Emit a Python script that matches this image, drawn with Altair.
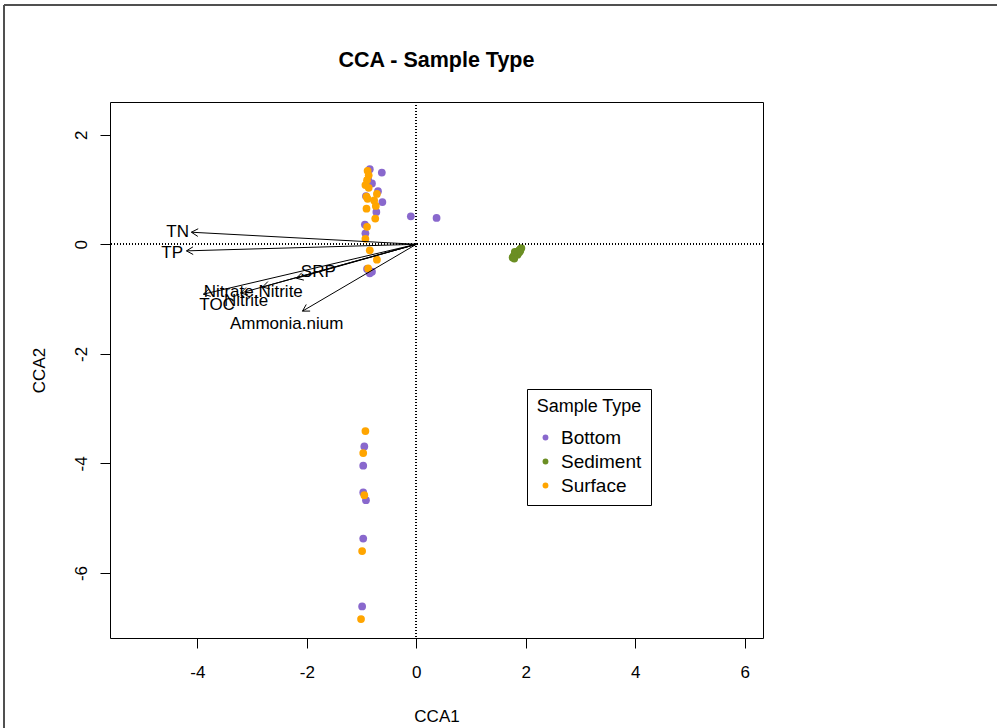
import altair as alt
import pandas as pd
import numpy as np

# ---- sample scores (CCA1, CCA2) ----
bottom_x = [-0.63, -0.85, -0.81, -0.70, -0.62, -0.73, -0.10, 0.37, -0.94, -0.93,
            -0.85, -0.81, -0.90, -0.88, -0.92, -0.95, -0.97, -0.97, -0.92, -0.97, -0.99]
bottom_y = [1.31, 1.37, 1.11, 0.97, 0.77, 0.59, 0.51, 0.48, 0.36, 0.20,
            -0.53, -0.50, -0.45, 1.18, 0.88, -3.69, -4.04, -4.53, -4.67, -5.37, -6.61]
sediment_x = [1.76, 1.78, 1.80, 1.82, 1.84, 1.86, 1.88, 1.90, 1.92, 1.79, 1.85, 1.88, 1.80, 1.90]
sediment_y = [-0.24, -0.21, -0.19, -0.17, -0.15, -0.13, -0.11, -0.09, -0.07, -0.26, -0.19, -0.15, -0.14, -0.12]
surface_x = [-0.89, -0.87, -0.90, -0.93, -0.87, -0.72, -0.91, -0.89, -0.77, -0.74, -0.91,
             -0.75, -0.90, -0.93, -0.85, -0.72, -0.88, -0.93, -0.97, -0.95, -0.99, -1.01]
surface_y = [1.34, 1.26, 1.17, 1.08, 1.03, 0.92, 0.87, 0.83, 0.80, 0.70, 0.65,
             0.47, 0.32, 0.10, -0.11, -0.28, -0.44, -3.41, -3.81, -4.58, -5.60, -6.84]

# ---- biplot arrows (environmental variables) ----
env_names = ["TN", "TP", "SRP", "Nitrate.Nitrite", "Nitrite", "TOC", "Ammonia.nium"]
env_x = [-4.11, -4.20, -2.19, -2.81, -3.21, -3.89, -2.08]
env_y = [0.22, -0.12, -0.62, -0.78, -0.89, -0.91, -1.22]
label_x = [-4.36, -4.46, -1.79, -2.98, -3.11, -3.64, -2.37]
label_y = [0.22, -0.16, -0.505, -0.87, -1.03, -1.11, -1.46]

groups = ["Bottom", "Sediment", "Surface"]
colors = ["#8968CD", "#6B8E23", "#FFA500"]

x_dom = [-5.597, 6.335]
y_dom = [-7.186, 2.597]
x_ticks = [-4, -2, 0, 2, 4, 6]
y_ticks = [-6, -4, -2, 0, 2]
title_text = ["CCA - Sample Type"]

FONT = "Liberation Sans"

pts = pd.concat([
    pd.DataFrame({"CCA1": bottom_x, "CCA2": bottom_y, "Sample Type": "Bottom"}),
    pd.DataFrame({"CCA1": sediment_x, "CCA2": sediment_y, "Sample Type": "Sediment"}),
    pd.DataFrame({"CCA1": surface_x, "CCA2": surface_y, "Sample Type": "Surface"}),
], ignore_index=True)

arrows = pd.DataFrame({"name": env_names, "x0": 0.0, "y0": 0.0, "x": env_x, "y": env_y,
                       "lx": label_x, "ly": label_y})

# arrow heads (open, R-style) derived from arrow tips
head_len = 0.14
rows = []
for xt, yt in zip(env_x, env_y):
    L = np.hypot(xt, yt)
    bx, by = -xt / L, -yt / L
    for a in (np.radians(30), -np.radians(30)):
        dx = bx * np.cos(a) - by * np.sin(a)
        dy = bx * np.sin(a) + by * np.cos(a)
        rows.append({"x": xt, "y": yt, "x2": xt + head_len * dx, "y2": yt + head_len * dy})
heads = pd.DataFrame(rows)

xs = alt.Scale(domain=x_dom, nice=False, zero=False)
ys = alt.Scale(domain=y_dom, nice=False, zero=False)

x_axis = alt.Axis(values=x_ticks, grid=False, domain=False, tickColor="black", tickSize=10,
                  labelFont=FONT, labelFontSize=17, labelColor="black", labelPadding=29,
                  labelBaseline="alphabetic", labelExpr="datum.value + ''",
                  title="CCA1", titleFont=FONT, titleFontSize=17,
                  titleFontWeight="normal", titleColor="black", titleX=326.5, titleY=83,
                  titleBaseline="alphabetic", titleAlign="center")
y_axis = alt.Axis(values=y_ticks, grid=False, domain=False, tickColor="black", tickSize=10,
                  labelFont=FONT, labelFontSize=17, labelColor="black", labelPadding=14,
                  labelAngle=270, labelAlign="center", labelBaseline="alphabetic",
                  labelExpr="datum.value + ''",
                  title="CCA2", titleFont=FONT, titleFontSize=17, titleFontWeight="normal",
                  titleColor="black", titleX=-66, titleY=268, titleAngle=270,
                  titleBaseline="alphabetic", titleAlign="center")

points = alt.Chart(pts).mark_circle(size=60, opacity=1).encode(
    x=alt.X("CCA1:Q", scale=xs, axis=x_axis),
    y=alt.Y("CCA2:Q", scale=ys, axis=y_axis),
    color=alt.Color("Sample Type:N",
                    scale=alt.Scale(domain=groups, range=colors),
                    legend=alt.Legend(orient="none", legendX=417, legendY=287,
                                      title="Sample Type", titleFont=FONT, titleFontSize=18,
                                      titleFontWeight="normal", titleColor="black",
                                      titleAnchor="middle", titlePadding=12,
                                      labelFont=FONT, labelFontSize=19, labelColor="black",
                                      symbolType="circle", symbolSize=34, symbolStrokeWidth=0,
                                      labelOffset=6, symbolOffset=0, rowPadding=4,
                                      padding=9, strokeColor="black", fillColor="white")),
)

vline = alt.Chart(pts).mark_rule(color="black", strokeDash=[1, 2], strokeWidth=1).encode(
    x=alt.datum(0, scale=xs))
hline = alt.Chart(pts).mark_rule(color="black", strokeDash=[1, 2], strokeWidth=1).encode(
    y=alt.datum(0, scale=ys))

shafts = alt.Chart(arrows).mark_rule(color="black", strokeWidth=1).encode(
    x=alt.X("x0:Q", scale=xs), y=alt.Y("y0:Q", scale=ys), x2="x:Q", y2="y:Q")
heads_l = alt.Chart(heads).mark_rule(color="black", strokeWidth=1).encode(
    x=alt.X("x:Q", scale=xs), y=alt.Y("y:Q", scale=ys), x2="x2:Q", y2="y2:Q")
labels = alt.Chart(arrows).mark_text(font=FONT, fontSize=17, color="black",
                                     align="center", baseline="middle").encode(
    x=alt.X("lx:Q", scale=xs), y=alt.Y("ly:Q", scale=ys), text="name:N")

title = alt.Chart(pd.DataFrame({"t": title_text})).mark_text(
    font=FONT, fontSize=21.5, fontWeight="bold", color="black",
    align="center", baseline="alphabetic").encode(
    x=alt.value(326.5), y=alt.value(-35), text="t:N")

frame_top = alt.Chart(pts).mark_rule(color="#505050", strokeWidth=2).encode(
    x=alt.value(-106), x2=alt.value(900), y=alt.value(-97))
frame_left = alt.Chart(pts).mark_rule(color="#505050", strokeWidth=2).encode(
    x=alt.value(-106), y=alt.value(-97), y2=alt.value(640))

chart = alt.layer(points, vline, hline, shafts, heads_l, labels, title,
                  frame_top, frame_left).properties(
    width=653, height=536,
    autosize=alt.AutoSizeParams(type="none"),
    padding={"left": 110, "top": 102, "right": 234, "bottom": 90},
).configure(background="white").configure_view(stroke="black", strokeWidth=1)

chart.save("out.html", embed_options={"renderer": "svg", "actions": False})
